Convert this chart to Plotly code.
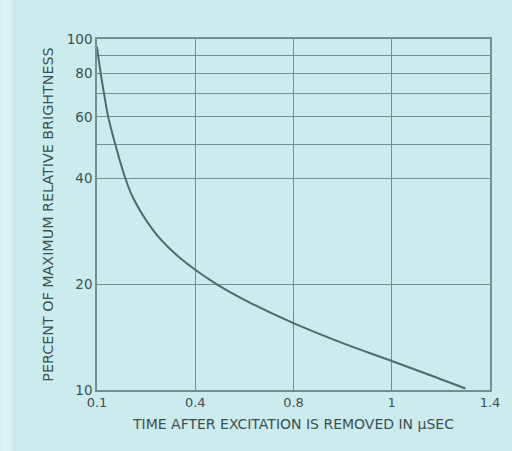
import plotly.graph_objects as go

# Grid divisions along the time axis (evenly spaced, labelled below)
tick_pos = [0, 1, 2, 3, 4]
tick_labels = ["0.1", "0.4", "0.8", "1", "1.4"]

# Decay curve: position in grid divisions vs percent of maximum brightness
time_div = [0.0, 0.037, 0.071, 0.114, 0.187, 0.29, 0.367, 0.569, 0.771,
            1.0, 1.22, 1.545, 2.0, 2.5, 3.0, 3.4, 3.75]
brightness = [95.0, 80.0, 70.0, 60.0, 50.0, 40.0, 35.3, 28.6, 24.8,
              22.0, 20.0, 17.8, 15.5, 13.6, 12.1, 11.0, 10.1]

# Log-scale grid lines and their labels
y_grid = [10, 20, 40, 50, 60, 70, 80, 90, 100]
y_labels = ["10", "20", "40", "", "60", "", "80", "", "100"]

bg = "#ccebee"
ink = "#3c4f52"
line_col = "#4a6c71"
grid_col = "#6f9195"

fig = go.Figure()
fig.add_trace(go.Scatter(
    x=time_div, y=brightness, mode="lines",
    line=dict(color=line_col, width=2, shape="spline", smoothing=1.0),
    hoverinfo="skip", showlegend=False,
))

fig.update_layout(
    width=512, height=451,
    margin=dict(l=97, r=20, t=39, b=61),
    paper_bgcolor=bg, plot_bgcolor=bg,
    font=dict(family="DejaVu Sans", color=ink, size=13),
    xaxis=dict(
        range=[0, 4], tickvals=tick_pos, ticktext=tick_labels,
        showgrid=True, gridcolor=grid_col, gridwidth=1,
        showline=True, linecolor=grid_col, linewidth=1.5, mirror=True,
        zeroline=False, ticks="", ticklen=0,
        tickfont=dict(size=13, color=ink),
        title=dict(text="TIME AFTER EXCITATION IS REMOVED IN \u03bcSEC",
                   font=dict(size=14, color=ink), standoff=10),
    ),
    yaxis=dict(
        type="log", range=[1, 2], tickvals=y_grid, ticktext=y_labels,
        showgrid=True, gridcolor=grid_col, gridwidth=1.2,
        showline=True, linecolor=grid_col, linewidth=1.5, mirror=True,
        zeroline=False, ticks="", ticklen=0,
        tickfont=dict(size=13.5, color=ink),
        title=dict(text="PERCENT OF MAXIMUM RELATIVE BRIGHTNESS",
                   font=dict(size=14.3, color=ink), standoff=10),
    ),
    shapes=[
        # pale strip along the page's left edge
        dict(type="rect", xref="paper", yref="paper", x0=-97/395, x1=-85/395,
             y0=-61/351, y1=1 + 39/351, fillcolor="#dcf2f2", line_width=0,
             layer="below"),
    ],
)

fig.write_html("out.html")
